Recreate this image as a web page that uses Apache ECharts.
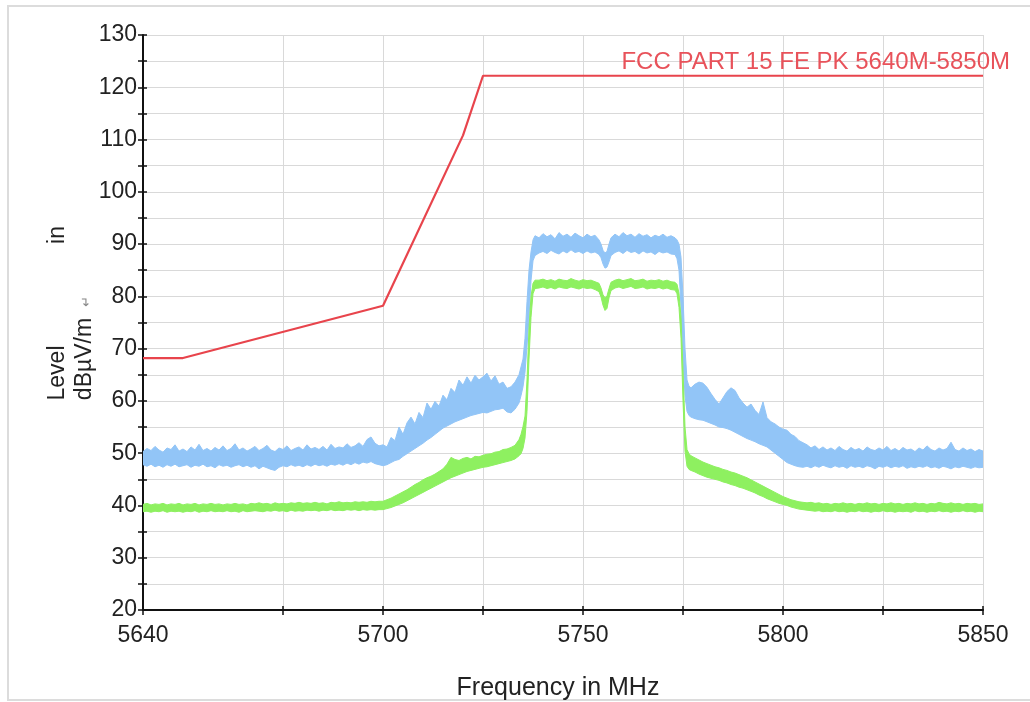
<!DOCTYPE html>
<html>
<head>
<meta charset="utf-8">
<script src="https://cdn.jsdelivr.net/npm/echarts@6/dist/echarts.min.js"></script>
<style>
html,body{margin:0;padding:0;background:#fff;}
#c{width:1030px;height:702px;}
</style>
</head>
<body>
<div id="c"></div>
<script>
// ---------------- DATA ----------------
const xTicks = [5640, 5675, 5700, 5725, 5750, 5775, 5800, 5825, 5850];
const xLabels = [5640, 5700, 5750, 5800, 5850];

const limitFreq = [5640, 5650, 5700, 5720, 5725, 5850];
const limitLevel = [68.2, 68.2, 78.2, 110.8, 122.2, 122.2];
const limitName = 'FCC PART 15 FE PK 5640M-5850M';

const freqs = [
5640,5641,5642,5643,5644,5645,5646,5647,5648,5649,
5650,5651,5652,5653,5654,5655,5656,5657,5658,5659,
5660,5661,5662,5663,5664,5665,5666,5667,5668,5669,
5670,5671,5672,5673,5674,5675,5676,5677,5678,5679,
5680,5681,5682,5683,5684,5685,5686,5687,5688,5689,
5690,5691,5692,5693,5694,5695,5696,5697,5698,5699,
5700,5701,5702,5703,5704,5705,5706,5707,5708,5709,
5710,5711,5712,5713,5714,5715,5716,5717,5718,5719,
5720,5721,5722,5723,5724,5725,5726,5727,5728,5729,
5730,5731,5732,5733,5734,
5734.5,5735,5735.5,5736,5736.5,5737,5737.5,5738,
5739,5740,5741,5742,5743,5744,5745,5746,5747,5748,5749,5750,5751,5752,5753,5754,
5754.5,5755,5755.5,5756,5756.5,5757,
5758,5759,5760,5761,5762,5763,5764,5765,5766,5767,5768,5769,5770,5771,5772,5773,
5773.5,5774,5774.5,5775,5775.5,5776,5776.5,
5777,5778,5779,5780,5781,5782,5783,5784,5785,5786,
5787,5788,5789,5790,5791,5792,5793,5794,5795,5796,
5797,5798,5799,5800,5801,5802,5803,5804,5805,5806,
5807,5808,5809,5810,5811,5812,5813,5814,5815,5816,
5817,5818,5819,5820,5821,5822,5823,5824,5825,5826,
5827,5828,5829,5830,5831,5832,5833,5834,5835,5836,
5837,5838,5839,5840,5841,5842,5843,5844,5845,5846,
5847,5848,5849,5850
];

// Peak trace (blue): upper and lower edge of the noise band
const peakHigh = [
50.3,50.9,50.5,51.3,50.6,50.2,51.0,50.7,51.6,50.4,
50.8,50.3,51.2,50.6,51.7,50.5,50.9,50.4,51.1,50.6,
51.4,50.5,50.9,51.8,50.6,51.0,50.4,50.8,51.3,50.5,
50.9,51.5,50.6,50.3,51.0,50.7,51.4,50.5,50.9,51.2,
50.6,51.6,50.8,51.1,50.7,51.3,50.6,51.7,50.9,51.2,
51.0,51.8,51.1,51.4,52.0,51.3,52.6,53.1,51.9,51.4,
51.6,51.2,53.0,52.4,55.0,53.6,55.8,56.9,55.6,57.8,
56.8,59.6,58.4,59.9,59.0,61.1,60.2,62.4,61.6,64.0,
63.0,64.6,63.4,64.9,64.0,64.6,65.3,63.8,64.8,63.2,
63.6,62.4,62.7,63.6,65.0,
66.5,68.0,72.0,79.0,85.0,88.5,90.8,91.6,
91.2,92.0,91.4,91.8,91.0,92.2,91.5,91.9,91.3,92.1,91.6,91.2,91.9,91.4,91.7,90.8,
90.0,88.8,88.3,88.6,90.0,91.2,
91.9,91.4,92.2,91.6,91.9,91.3,92.0,91.5,91.8,91.2,91.7,91.4,91.9,91.3,91.6,91.2,
90.8,90.0,87.5,80.0,70.0,64.0,62.8,
62.5,63.2,63.6,63.4,62.6,61.4,60.3,59.4,60.6,61.8,
62.5,62.0,60.6,59.6,58.8,59.4,58.2,57.4,59.8,56.8,
56.0,55.6,55.0,54.6,54.4,53.6,53.2,52.4,52.0,51.6,
51.0,51.4,50.7,51.2,50.6,51.0,50.5,51.3,50.7,50.4,
51.1,50.6,50.9,50.4,51.2,50.7,50.5,51.0,50.6,51.3,
50.5,50.9,50.4,51.1,50.6,50.8,50.3,51.0,50.6,51.4,
50.7,50.4,51.0,50.6,50.9,52.1,50.7,50.4,51.0,50.5,
50.8,50.3,50.7,50.4
];
const peakLow = [
47.8,47.5,47.9,47.4,47.7,47.3,47.8,47.5,47.9,47.4,
47.6,47.8,47.3,47.7,47.5,47.9,47.4,47.6,47.2,47.8,
47.5,47.7,47.3,47.6,47.8,47.4,47.7,47.3,47.6,47.0,
47.5,47.2,46.9,46.7,47.3,47.6,47.4,47.8,47.5,47.7,
47.4,47.8,47.5,47.9,47.6,47.8,47.5,47.9,47.7,48.0,
47.7,48.1,47.8,48.2,47.9,48.3,48.1,48.4,48.0,47.8,
47.6,47.8,48.2,48.6,48.8,49.4,49.9,50.4,50.9,51.4,
51.9,52.5,53.0,53.6,54.2,54.8,55.2,55.6,56.0,56.3,
56.6,56.9,57.2,57.4,57.6,57.8,57.7,58.0,58.3,58.4,
58.6,57.9,57.7,58.4,59.6,
61.0,62.7,65.5,70.5,76.0,83.0,86.8,87.8,
88.3,88.6,88.2,88.8,88.4,88.1,88.7,88.3,88.9,88.4,88.6,88.2,88.7,88.3,88.5,88.0,
87.4,86.2,85.4,85.6,86.6,87.8,
88.4,88.7,88.2,88.8,88.4,88.6,88.1,88.7,88.3,88.5,88.0,88.6,88.3,88.5,88.1,88.0,
87.2,85.0,78.0,68.0,61.0,58.0,57.2,
56.9,56.6,56.4,56.3,56.0,55.7,55.4,55.0,54.9,54.7,
54.4,54.0,53.6,53.2,52.8,52.5,52.2,51.8,51.5,51.2,
50.6,50.0,49.4,48.8,48.2,47.9,47.6,47.4,47.3,47.5,
47.2,47.6,47.3,47.7,47.4,47.2,47.6,47.3,47.5,47.1,
47.6,47.3,47.5,47.2,47.6,47.4,47.0,47.5,47.3,47.6,
47.2,47.5,47.3,47.6,47.1,47.4,47.2,47.5,47.3,47.6,
47.2,47.4,47.1,47.5,47.3,47.0,47.4,47.2,47.5,47.3,
47.1,47.4,47.2,47.3
];

// Average trace (green): upper and lower edge of the noise band
const avgHigh = [
40.2,40.4,40.1,40.3,40.2,40.4,40.1,40.3,40.2,40.4,
40.1,40.3,40.2,40.4,40.1,40.3,40.2,40.4,40.2,40.3,
40.1,40.3,40.2,40.4,40.2,40.3,40.1,40.4,40.3,40.5,
40.3,40.4,40.2,40.5,40.3,40.4,40.3,40.5,40.4,40.6,
40.4,40.5,40.4,40.6,40.4,40.5,40.3,40.6,40.5,40.7,
40.5,40.6,40.5,40.7,40.6,40.7,40.6,40.8,40.7,40.8,
40.8,41.1,41.4,41.8,42.2,42.6,43.0,43.5,44.0,44.4,
44.9,45.3,45.6,46.0,46.5,47.0,47.9,49.2,48.8,48.6,
49.0,49.2,48.9,49.4,49.3,49.6,49.8,49.9,50.2,50.3,
50.7,50.8,51.1,51.5,52.6,
53.6,55.1,57.1,64.0,74.0,80.0,82.5,83.1,
83.1,83.3,83.0,83.2,82.9,83.3,83.1,83.0,83.4,83.1,82.9,83.2,83.0,83.1,82.8,82.5,
81.6,80.3,79.7,80.1,81.5,82.7,
83.1,83.3,83.0,83.2,83.4,83.0,83.1,83.3,82.9,83.1,83.0,83.2,82.9,83.1,82.8,82.7,
82.3,80.6,76.0,66.0,55.0,50.7,49.9,
49.5,49.1,48.7,48.3,48.0,47.7,47.4,47.2,46.9,46.7,
46.4,46.2,45.9,45.6,45.3,44.9,44.5,44.1,43.7,43.3,
42.9,42.5,42.1,41.7,41.4,41.1,40.9,40.7,40.6,40.5,
40.6,40.4,40.5,40.3,40.4,40.2,40.4,40.3,40.5,40.3,
40.4,40.2,40.4,40.3,40.5,40.3,40.4,40.2,40.4,40.3,
40.5,40.3,40.4,40.2,40.4,40.3,40.5,40.3,40.4,40.2,
40.4,40.3,40.6,40.4,40.3,40.5,40.3,40.4,40.2,40.4,
40.3,40.4,40.2,40.3
];
const avgLow = [
38.8,38.9,38.7,38.9,38.8,39.0,38.7,38.9,38.8,38.9,
38.7,38.9,38.8,39.0,38.7,38.9,38.8,39.0,38.8,38.9,
38.8,39.0,38.8,38.9,38.7,39.0,38.8,38.9,39.0,38.9,
38.8,39.0,38.9,39.1,38.9,39.0,38.8,39.1,38.9,39.0,
38.9,39.1,39.0,39.1,38.9,39.1,39.0,39.2,39.0,39.1,
39.0,39.2,39.1,39.2,39.0,39.2,39.1,39.2,39.1,39.2,
39.2,39.4,39.6,39.9,40.2,40.5,40.9,41.3,41.7,42.1,
42.5,42.9,43.3,43.7,44.1,44.5,44.9,45.3,45.6,45.9,
46.2,46.5,46.7,46.9,47.1,47.3,47.4,47.6,47.8,48.0,
48.2,48.4,48.6,48.9,49.5,
49.9,50.9,52.9,58.0,68.0,76.0,80.5,81.5,
81.6,81.8,81.5,81.7,81.4,81.8,81.6,81.5,81.8,81.6,81.4,81.7,81.5,81.6,81.3,80.9,
79.9,78.3,77.3,77.7,79.7,81.1,
81.6,81.8,81.5,81.7,81.9,81.5,81.6,81.8,81.4,81.6,81.5,81.7,81.4,81.6,81.3,81.2,
80.5,77.9,72.0,60.0,50.4,47.5,46.9,
46.7,46.4,46.0,45.7,45.4,45.2,45.0,44.8,44.5,44.3,
44.0,43.8,43.5,43.3,43.0,42.7,42.4,42.0,41.7,41.3,
41.0,40.7,40.4,40.2,40.0,39.7,39.5,39.3,39.2,39.1,
39.0,38.9,39.0,38.8,38.9,38.8,39.0,38.8,38.9,38.7,
38.9,38.8,39.0,38.8,38.9,38.7,38.9,38.8,39.0,38.8,
38.9,38.7,38.9,38.8,38.9,38.7,39.0,38.8,38.9,38.7,
38.9,38.8,39.0,38.8,38.9,38.7,38.9,38.8,39.0,38.8,
38.9,38.7,38.9,38.8
];

// ---------------- CHART ----------------
[peakHigh, peakLow, avgHigh, avgLow].forEach(function (a, i) {
  if (a.length !== freqs.length) console.error('length mismatch', i, a.length, freqs.length);
});

const FONT = '"Liberation Sans", Arial, sans-serif';
const chart = echarts.init(document.getElementById('c'), null, {renderer: 'canvas'});

function band(low, high, color, z) {
  return {
    type: 'custom',
    coordinateSystem: 'cartesian2d',
    silent: true,
    clip: true,
    z: z,
    data: [[freqs[0], low[0]]],
    renderItem: function (params, api) {
      const pts = [];
      for (let i = 0; i < freqs.length; i++) pts.push(api.coord([freqs[i], high[i]]));
      for (let i = freqs.length - 1; i >= 0; i--) pts.push(api.coord([freqs[i], low[i]]));
      return {
        type: 'polygon',
        shape: {points: pts},
        style: {fill: color, stroke: color, lineWidth: 1}
      };
    }
  };
}

const AXIS_COLOR = '#111';
const option = {
  animation: false,
  backgroundColor: '#ffffff',
  grid: {left: 143, right: 47, top: 35, bottom: 92, containLabel: false},
  xAxis: [{
    type: 'value',
    min: 5640, max: 5850,
    axisLine: {show: true, onZero: false, lineStyle: {color: AXIS_COLOR, width: 2}},
    axisTick: {show: true, length: 5, customValues: xTicks, lineStyle: {color: AXIS_COLOR, width: 1.5}},
    axisLabel: {show: true, customValues: xLabels, margin: 14, fontSize: 23, color: '#222', fontFamily: FONT,
      formatter: function (v) { return String(v); }},
    splitLine: {show: true, lineStyle: {color: '#d9d9d9', width: 1}}
  }, {
    type: 'value',
    position: 'bottom',
    min: 5640, max: 5850,
    axisLine: {show: false},
    axisTick: {show: true, inside: true, length: 4, customValues: xTicks, lineStyle: {color: AXIS_COLOR, width: 1.5}},
    axisLabel: {show: false},
    splitLine: {show: false}
  }],
  yAxis: [{
    type: 'value',
    min: 20, max: 130, interval: 5,
    axisLine: {show: true, onZero: false, lineStyle: {color: AXIS_COLOR, width: 2}},
    axisTick: {show: true, length: 5, lineStyle: {color: AXIS_COLOR, width: 1.5}},
    axisLabel: {
      show: true, margin: 6, fontSize: 23, color: '#222', fontFamily: FONT,
      formatter: function (v) { return v % 10 === 0 ? String(v) : ''; }
    },
    splitLine: {show: true, lineStyle: {color: '#d9d9d9', width: 1}}
  }, {
    type: 'value',
    position: 'left',
    min: 20, max: 130, interval: 5,
    axisLine: {show: false},
    axisTick: {show: true, inside: true, length: 4, lineStyle: {color: AXIS_COLOR, width: 1.5}},
    axisLabel: {show: false},
    splitLine: {show: false}
  }],
  series: [
    band(peakLow, peakHigh, '#92c5f7', 2),
    band(avgLow, avgHigh, '#8ef060', 3),
    {
      type: 'line',
      name: limitName,
      z: 5,
      symbol: 'none',
      silent: true,
      data: limitFreq.map(function (f, i) { return [f, limitLevel[i]]; }),
      lineStyle: {color: '#e8444c', width: 2.2}
    }
  ],
  graphic: [
    {type: 'rect', silent: true, z: -1,
     shape: {x: 8, y: 6, width: 1040, height: 694},
     style: {fill: 'none', stroke: '#dcdcdc', lineWidth: 2}},
    {type: 'text', z: 10, x: 1010, y: 62,
     style: {text: limitName, fill: '#e8525a', font: '24px ' + FONT, align: 'right', verticalAlign: 'middle'}},
    {type: 'text', z: 10, x: 558, y: 688,
     style: {text: 'Frequency in MHz', fill: '#222', font: '25px ' + FONT, align: 'center', verticalAlign: 'middle'}},
    {type: 'text', z: 10, x: 58, y: 373, rotation: Math.PI / 2,
     style: {text: 'Level', fill: '#222', font: '23px ' + FONT, align: 'center', verticalAlign: 'middle'}},
    {type: 'text', z: 10, x: 58, y: 235, rotation: Math.PI / 2,
     style: {text: 'in', fill: '#222', font: '23px ' + FONT, align: 'center', verticalAlign: 'middle'}},
    {type: 'text', z: 10, x: 85, y: 359, rotation: Math.PI / 2,
     style: {text: 'dBµV/m', fill: '#222', font: '23px ' + FONT, align: 'center', verticalAlign: 'middle'}},
    {type: 'text', z: 10, x: 86, y: 301, rotation: Math.PI / 2,
     style: {text: '↵', fill: '#888', font: '13px ' + FONT, align: 'center', verticalAlign: 'middle'}}
  ]
};
chart.setOption(option);
</script>
</body>
</html>
